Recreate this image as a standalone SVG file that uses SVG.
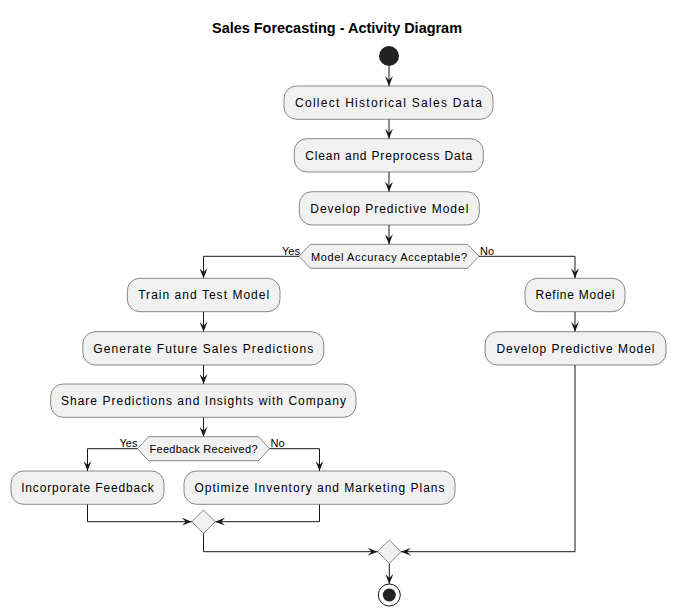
<svg xmlns="http://www.w3.org/2000/svg" width="677" height="616" viewBox="0 0 677 616">
<defs>
<style>
.box{fill:#F1F1F1;stroke:#181818;stroke-width:0.5}
.t{font-family:"Liberation Sans",Arial,sans-serif;font-size:12px;fill:#000;text-anchor:middle}
.d{font-family:"Liberation Sans",Arial,sans-serif;font-size:11px;fill:#000;text-anchor:middle}
.l{font-family:"Liberation Sans",Arial,sans-serif;font-size:11px;fill:#000}
.c{fill:none;stroke:#181818;stroke-width:1;marker-end:url(#ah)}
.title{font-family:"Liberation Sans",Arial,sans-serif;font-size:14px;font-weight:bold;text-anchor:middle;fill:#000}
</style>
<marker id="ah" markerUnits="userSpaceOnUse" markerWidth="10" markerHeight="8" refX="10" refY="4" orient="auto" viewBox="0 0 10 8">
<path d="M0,0 L10,4 L0,8 L4,4 Z" fill="#181818"/>
</marker>
</defs>
<rect width="677" height="616" fill="#FFFFFF"/>
<text class="title" x="337" y="33" textLength="250" lengthAdjust="spacingAndGlyphs">Sales Forecasting - Activity Diagram</text>

<g id="connectors">
<path class="c" d="M389,66 V86"/>
<path class="c" d="M389,119.3 V138.7"/>
<path class="c" d="M389,172 V191.7"/>
<path class="c" d="M389,225 V244.3"/>
<path class="c" d="M299,256.3 H203.5 V278.3"/>
<path class="c" d="M479,256.3 H575 V278.3"/>
<path class="c" d="M203.5,311.7 V331.7"/>
<path class="c" d="M203.5,365 V384"/>
<path class="c" d="M203.5,417.3 V436.7"/>
<path class="c" d="M137.5,448.7 H87.5 V471"/>
<path class="c" d="M269.5,448.7 H319.5 V471"/>
<path class="c" d="M87.5,504.3 V521.7 H191.8"/>
<path class="c" d="M319.5,504.3 V521.7 H215.2"/>
<path class="c" d="M203.5,533.4 V551.7 H377.6"/>
<path class="c" d="M575,311.7 V331.7"/>
<path class="c" d="M575,365 V551.7 H401"/>
<path class="c" d="M389.3,563.4 V584"/>
<text class="l" x="282" y="254.5">Yes</text>
<text class="l" x="480" y="254.5">No</text>
<text class="l" x="119.5" y="446.5">Yes</text>
<text class="l" x="270.5" y="446.5">No</text>
</g>

<g id="start"><circle cx="389" cy="56" r="10" fill="#222222"/></g>

<g id="collect">
<rect class="box" x="284" y="86" width="209" height="33.3" rx="12.5"/>
<text class="t" x="388.5" y="107" textLength="187" lengthAdjust="spacing">Collect Historical Sales Data</text>
</g>
<g id="clean">
<rect class="box" x="294.3" y="138.7" width="189" height="33.3" rx="12.5"/>
<text class="t" x="388.8" y="159.7" textLength="167" lengthAdjust="spacing">Clean and Preprocess Data</text>
</g>
<g id="develop1">
<rect class="box" x="299.3" y="191.7" width="180" height="33.3" rx="12.5"/>
<text class="t" x="389.3" y="212.7" textLength="158" lengthAdjust="spacing">Develop Predictive Model</text>
</g>
<g id="decision1">
<polygon class="box" points="299,256.3 310.5,244.3 467.5,244.3 479,256.3 467.5,268.3 310.5,268.3"/>
<text class="d" x="389" y="260.5" textLength="156" lengthAdjust="spacing">Model Accuracy Acceptable?</text>
</g>
<g id="train">
<rect class="box" x="127.3" y="278.3" width="152.7" height="33.4" rx="12.5"/>
<text class="t" x="203.7" y="299.3" textLength="131" lengthAdjust="spacing">Train and Test Model</text>
</g>
<g id="generate">
<rect class="box" x="82.8" y="331.7" width="241" height="33.3" rx="12.5"/>
<text class="t" x="203.3" y="352.7" textLength="220" lengthAdjust="spacing">Generate Future Sales Predictions</text>
</g>
<g id="share">
<rect class="box" x="50.7" y="384" width="305.3" height="33.3" rx="12.5"/>
<text class="t" x="203.4" y="405" textLength="285" lengthAdjust="spacing">Share Predictions and Insights with Company</text>
</g>
<g id="decision2">
<polygon class="box" points="137.5,448.7 148.5,436.7 258.5,436.7 269.5,448.7 258.5,460.7 148.5,460.7"/>
<text class="d" x="203.5" y="452.7" textLength="108" lengthAdjust="spacing">Feedback Received?</text>
</g>
<g id="incorporate">
<rect class="box" x="11" y="471" width="153" height="33.3" rx="12.5"/>
<text class="t" x="87.5" y="492" textLength="132.7" lengthAdjust="spacing">Incorporate Feedback</text>
</g>
<g id="optimize">
<rect class="box" x="184" y="471" width="271" height="33.3" rx="12.5"/>
<text class="t" x="319.5" y="492" textLength="250" lengthAdjust="spacing">Optimize Inventory and Marketing Plans</text>
</g>
<g id="refine">
<rect class="box" x="525" y="278.3" width="100" height="33.4" rx="12.5"/>
<text class="t" x="575" y="299.3" textLength="79" lengthAdjust="spacing">Refine Model</text>
</g>
<g id="develop2">
<rect class="box" x="485" y="331.7" width="181" height="33.3" rx="12.5"/>
<text class="t" x="575.5" y="352.7" textLength="158" lengthAdjust="spacing">Develop Predictive Model</text>
</g>
<g id="merge1">
<polygon class="box" points="203.5,510 215.2,521.7 203.5,533.4 191.8,521.7"/>
</g>
<g id="merge2">
<polygon class="box" points="389.3,540 401,551.7 389.3,563.4 377.6,551.7"/>
</g>
<g id="end">
<circle cx="389.3" cy="595" r="11" fill="none" stroke="#181818" stroke-width="1"/>
<circle cx="389.3" cy="595" r="6.5" fill="#222222"/>
</g>
</svg>
